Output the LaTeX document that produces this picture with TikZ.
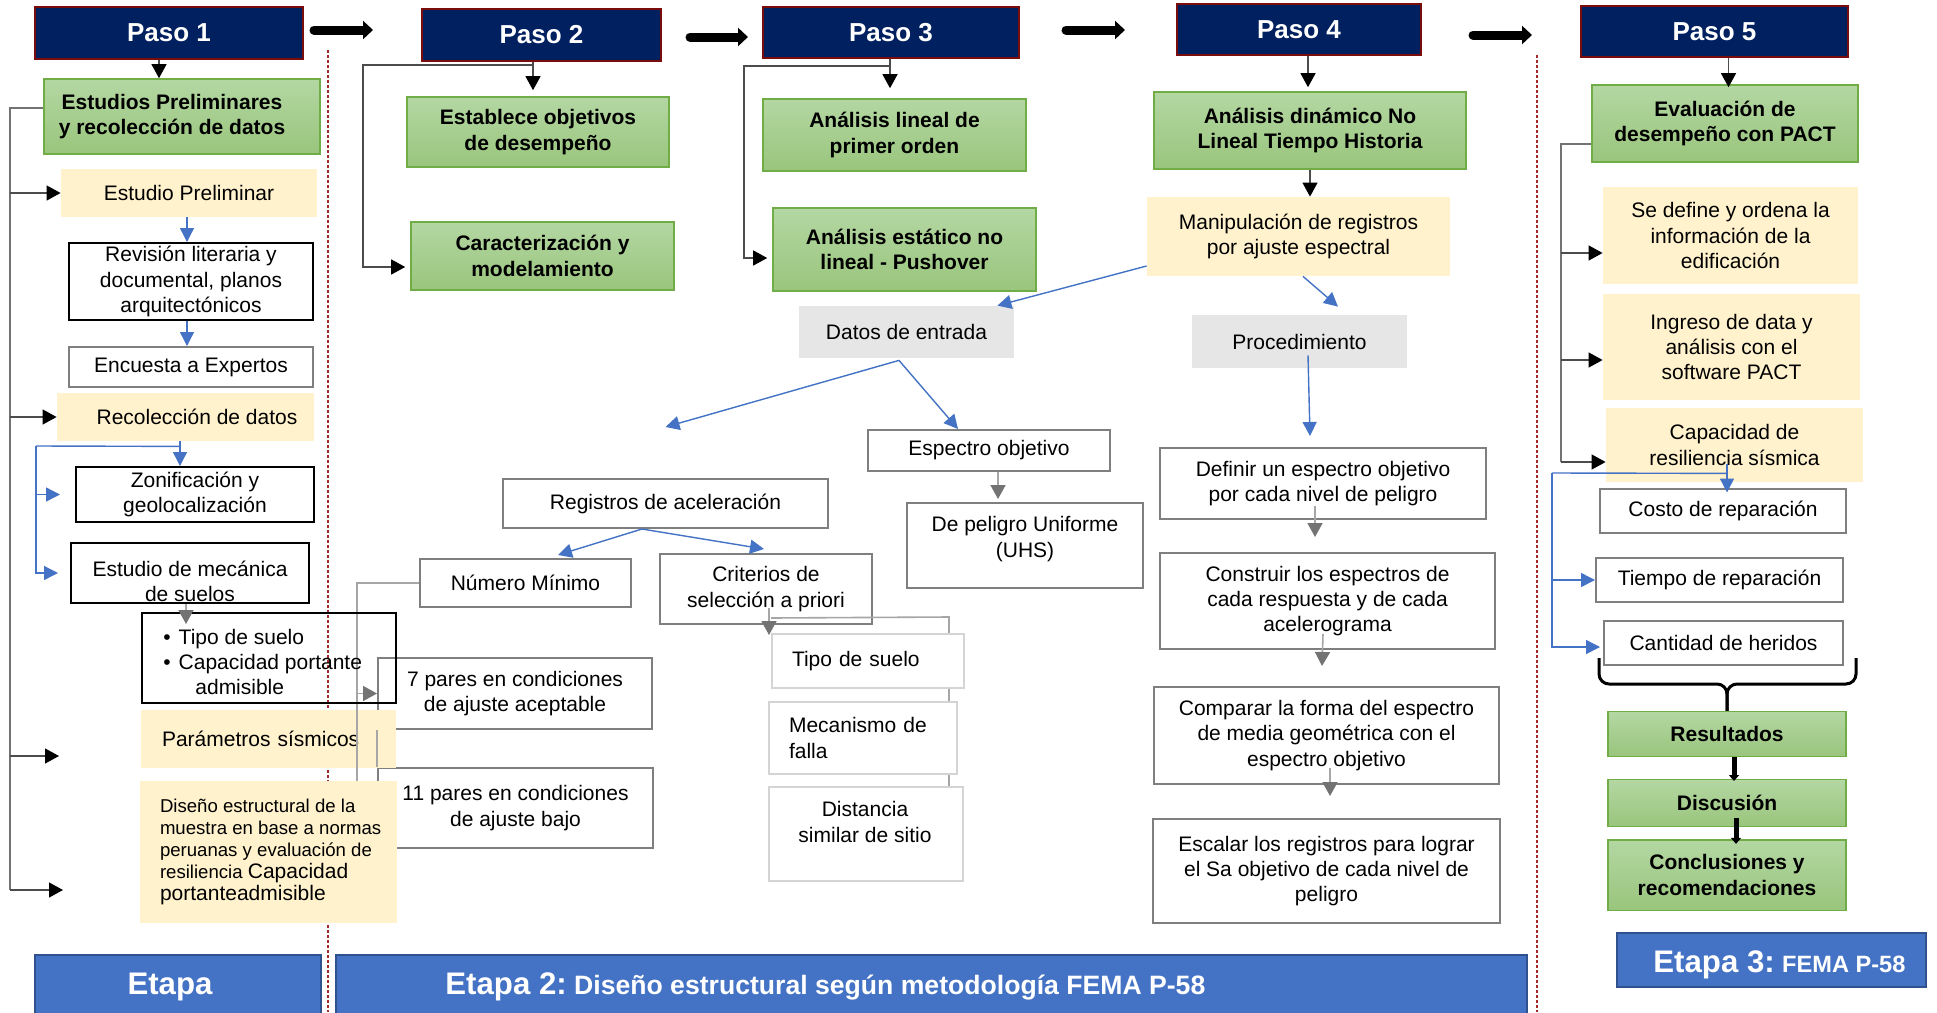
\documentclass[tikz,border=0pt]{standalone}
\usepackage{fontspec}
\setmainfont{Liberation Sans}
\usetikzlibrary{arrows.meta,calc}

\definecolor{navy}{HTML}{002060}
\definecolor{darkred}{HTML}{7B0C0C}
\definecolor{gtop}{HTML}{B4D7A3}
\definecolor{gbot}{HTML}{99C57C}
\definecolor{gedge}{HTML}{70AD47}
\definecolor{cream}{HTML}{FFF2CC}
\definecolor{lgray}{HTML}{E7E6E6}
\definecolor{bblue}{HTML}{4472C4}
\definecolor{bedge}{HTML}{2F528F}
\definecolor{midgray}{HTML}{7F7F7F}
\definecolor{palegray}{HTML}{D4D4D4}
\definecolor{lightline}{HTML}{A6A6A6}
\definecolor{dotred}{HTML}{A52A2A}

\begin{document}
\begin{tikzpicture}[x=0.5pt,y=-0.5pt,
  every node/.style={inner sep=0pt, align=center, font=\fontsize{10.5}{12.7}\selectfont},
  paso/.style={fill=navy, draw=darkred, line width=1pt, text=white, font=\fontsize{13}{15}\selectfont\bfseries},
  grn/.style={top color=gtop, bottom color=gbot, draw=gedge, line width=0.8pt, font=\fontsize{10.5}{12.7}\selectfont\bfseries},
  boldtxt/.style={font=\fontsize{10.5}{12.7}\selectfont\bfseries},
  note/.style={fill=cream},
  gfill/.style={fill=lgray},
  bbox/.style={draw=black, fill=white, line width=1pt},
  gbox/.style={draw=midgray, fill=white, line width=1pt},
  lbox/.style={draw=palegray, fill=white, line width=1pt},
  etapa/.style={fill=bblue, draw=bedge, line width=1pt},
  tline/.style={draw=black!55, line width=0.6pt},
  barr/.style={draw=black!70, line width=0.6pt, -{Triangle[length=7pt,width=7.5pt,color=black,fill=black]}},
  bigarr/.style={draw=black, line width=4.5pt, line cap=round, -{Triangle[length=5pt,width=9pt]}},
  blline/.style={draw=bblue, line width=0.7pt},
  blarr/.style={draw=bblue, line width=0.7pt, -{Triangle[length=7pt,width=7pt]}},
  gline/.style={draw=lightline, line width=0.8pt},
  garr/.style={draw=lightline, line width=0.8pt, -{Triangle[length=7pt,width=7.5pt,color=black!55,fill=black!55]}},
  thickarr/.style={draw=black, line width=2.5pt, -{Triangle[length=3pt,width=5pt]}},
  bracepath/.style={draw=black, line width=1.5pt, rounded corners=5pt},
  redline/.style={draw=dotred, line width=0.6pt, dash pattern=on 1.5pt off 1pt}
]
\useasboundingbox (0,0) rectangle (1937,1012);
\fill[white] (0,0) rectangle (1937,1012);

% stage dividers
\coordinate (d1t) at (328,50);  \coordinate (d1b) at (328,1012);
\coordinate (d2t) at (1537,55); \coordinate (d2b) at (1537,1012);
\draw[redline] (d1t) -- (d1b);
\draw[redline] (d2t) -- (d2b);

% record pairs (partly behind the column of Paso 1)
\node[gbox, minimum width=137pt, minimum height=35.5pt] (p7) at (515,693.5) {7 pares en condiciones\\de ajuste aceptable};
\node[gbox, minimum width=137.5pt, minimum height=40pt] (p11) at (515.5,808) {11 pares en condiciones\\de ajuste bajo};

\node[note, minimum width=127.5pt, minimum height=29pt, text width=106.5pt, inner xsep=10.5pt, align=left] (y3) at (268.5,739) {Parámetros sísmicos};

% step 3 input data cluster
\node[gbox, minimum width=162.5pt, minimum height=24.5pt] (reg) at (665.5,503.5) {Registros de aceleración};
\node[gbox, minimum width=105.5pt, minimum height=24pt] (num) at (525.5,583) {Número Mínimo};
\node[gbox, minimum width=106pt, minimum height=35pt] (cri) at (766,589) {Criterios de\\selección a priori};

% minimum number of records
\coordinate (nt) at (357,583);
\draw[gline] (num.west) -- (nt) -- (nt |- p11.west);
\draw[gline] (p7.south west) -- (p11.north west);
\draw[garr] (nt |- p7.west) -- (p7.west);
\draw[garr] (nt |- p11.west) -- (p11.west);

\node[note, minimum width=128.5pt, minimum height=71pt] (y4) at (268.5,852) {};
\node[anchor=west, align=left, font=\fontsize{9.3}{11}\selectfont] (y4t) at ([xshift=10pt]y4.west) {Diseño estructural de la\\muestra en base a normas\\peruanas y evaluación de\\resiliencia {\fontsize{10.5}{11}\selectfont Capacidad}\\{\fontsize{10.5}{11}\selectfont portanteadmisible}};

% selection criteria
\coordinate (cb) at (949,617);
\coordinate (cbb) at (949,834);
\draw[gline] ([xshift=2.5pt,yshift=3.5pt]cri.south) -- (cb) -- (cbb);
\node[lbox, minimum width=96pt, minimum height=27pt, text width=76pt, inner xsep=10pt, align=left] (tsu) at (868,661) {Tipo de suelo};
\node[lbox, minimum width=94pt, minimum height=36pt, text width=74pt, inner xsep=10pt, align=left] (mfa) at (863,738) {Mecanismo de\\falla};
\node[lbox, minimum width=97pt, minimum height=47pt] (dist) at (866,834) {};
\node (distt) at (865,822) {Distancia\\similar de sitio};
\draw[garr] ([xshift=1.5pt,yshift=8.5pt]cri.south) -- ([xshift=-49.5pt,yshift=-1pt]tsu.north);

% Paso headers
\node[paso, minimum width=134pt, minimum height=26pt] (p1) at (169,33) {Paso 1};
\node[paso, minimum width=119.5pt, minimum height=26pt] (p2) at (541.5,35) {Paso 2};
\node[paso, minimum width=128pt, minimum height=25.5pt] (p3) at (891,32.5) {Paso 3};
\node[paso, minimum width=122pt, minimum height=25.5pt] (p4) at (1299,29.5) {Paso 4};
\node[paso, minimum width=133.5pt, minimum height=25.5pt] (p5) at (1714.5,31.5) {Paso 5};

% column 1
\node[grn, minimum width=138pt, minimum height=37.5pt] (g1) at (182,116.5) {};
\node[boldtxt] (g1t) at (172,116.5) {Estudios Preliminares\\y recolección de datos};
\node[note, minimum width=128pt, minimum height=24pt] (y1) at (189,193) {Estudio Preliminar};
\node[bbox, minimum width=122pt, minimum height=38.5pt] (rev) at (191,281.5) {Revisión literaria y\\documental, planos\\arquitectónicos};
\node[gbox, minimum width=122pt, minimum height=20pt] (enc) at (191,367) {Encuesta a Expertos};
\node[note, minimum width=128.5pt, minimum height=24pt] (y2) at (185.5,417) {};
\node (y2t) at (197,417) {Recolección de datos};
\node[bbox, minimum width=119pt, minimum height=27.5pt] (zon) at (195,494.5) {Zonificación y\\geolocalización};
\node[bbox, minimum width=119pt, minimum height=30pt] (mec) at (190,573) {};
\node (mect) at (190,581.5) {Estudio de mecánica\\de suelos};
\node[draw=black, line width=1pt, minimum width=127pt, minimum height=45pt] (bul) at (269,658) {};
\node[anchor=west, align=left] (bult) at (163,662) {\textbullet\hspace{4pt}Tipo de suelo\\\textbullet\hspace{4pt}Capacidad portante\\\hspace*{16pt}admisible};

% column 2
\node[grn, minimum width=131pt, minimum height=35pt] (g2) at (538,132) {Establece objetivos\\de desempeño};
\node[grn, minimum width=131.5pt, minimum height=34pt] (g3) at (542.5,256) {Caracterización y\\modelamiento};

% column 3
\node[grn, minimum width=131.5pt, minimum height=36pt] (g4) at (894.5,135) {Análisis lineal de\\primer orden};
\node[grn, minimum width=131.5pt, minimum height=41.5pt] (g5) at (904.5,249.5) {Análisis estático no\\lineal - Pushover};
\node[gfill, minimum width=107.5pt, minimum height=26pt] (dat) at (906.5,332) {Datos de entrada};
\node[gbox, minimum width=121pt, minimum height=20.5pt] (esp) at (989,450.5) {Espectro objetivo};
\node[gbox, minimum width=118pt, minimum height=42.5pt] (pel) at (1025,545.5) {};
\node (pelt) at (1025,539) {De peligro Uniforme\\(UHS)};

% column 4
\node[grn, minimum width=156pt, minimum height=38.5pt] (g6) at (1310,130.5) {Análisis dinámico No\\Lineal Tiempo Historia};
\node[note, minimum width=151.5pt, minimum height=39.5pt] (y5) at (1298.5,236.5) {Manipulación de registros\\por ajuste espectral};
\node[gfill, minimum width=107.5pt, minimum height=26.5pt] (proc) at (1299.5,341.5) {Procedimiento};
\node[gbox, minimum width=163pt, minimum height=35.5pt] (def) at (1323,483.5) {Definir un espectro objetivo\\por cada nivel de peligro};
\node[gbox, minimum width=167.5pt, minimum height=48pt] (con) at (1327.5,601) {Construir los espectros de\\cada respuesta y de cada\\acelerograma};
\node[gbox, minimum width=172.5pt, minimum height=48.5pt] (com) at (1326.5,735.5) {Comparar la forma del espectro\\de media geométrica con el\\espectro objetivo};
\node[gbox, minimum width=173.5pt, minimum height=52pt] (esc) at (1326.5,871) {Escalar los registros para lograr\\el Sa objetivo de cada nivel de\\peligro};

% column 5
\node[grn, minimum width=133pt, minimum height=38.5pt] (g7) at (1725,123.5) {Evaluación de\\desempeño con PACT};
\node[note, minimum width=127.5pt, minimum height=48.5pt] (y6) at (1730.5,235.5) {Se define y ordena la\\información de la\\edificación};
\node[note, minimum width=128.5pt, minimum height=53pt] (y7) at (1731.5,347) {Ingreso de data y\\análisis con el\\software PACT};
\node[note, minimum width=128.5pt, minimum height=37pt] (y8) at (1734.5,445) {Capacidad de\\resiliencia sísmica};
\node[gbox, minimum width=123pt, minimum height=22pt] (cos) at (1723,510.5) {Costo de reparación};
\node[gbox, minimum width=123.5pt, minimum height=21.75pt] (tie) at (1719.5,580) {Tiempo de reparación};
\node[gbox, minimum width=119.5pt, minimum height=21.75pt] (can) at (1723.5,643) {Cantidad de heridos};
\node[grn, minimum width=119pt, minimum height=22.35pt] (g8) at (1727,734) {Resultados};
\node[grn, minimum width=119pt, minimum height=23.6pt] (g9) at (1727,803) {Discusión};
\node[grn, minimum width=119pt, minimum height=35.3pt] (g10) at (1727,875) {Conclusiones y\\recomendaciones};

% stage banners
\node[etapa, minimum width=143pt, minimum height=32pt] (e1) at (178,987) {};
\node[text=white, font=\fontsize{15.6}{18}\selectfont\bfseries] (e1t) at (170,987) {Etapa};
\node[etapa, minimum width=595.5pt, minimum height=32pt] (e2) at (931.5,987) {};
\node[anchor=west, text=white, font=\bfseries] (e2t) at (445,987) {{\fontsize{15.6}{18}\selectfont Etapa 2:} {\fontsize{13.3}{16}\selectfont Diseño estructural según metodología FEMA P-58}};
\node[etapa, minimum width=154.5pt, minimum height=26.8pt] (e3) at (1771.5,960) {};
\node[anchor=west, text=white, font=\bfseries] (e3t) at (1653,965) {{\fontsize{15.6}{18}\selectfont Etapa 3:} {\fontsize{11.8}{14}\selectfont FEMA P-58}};

% arrows between steps
\draw[bigarr] ([xshift=5pt,yshift=1.5pt]p1.east) -- ([xshift=-24pt,yshift=1.5pt]p1.east -| p2.west);
\draw[bigarr] ([xshift=14pt,yshift=-1pt]p2.east) -- ([xshift=-7pt,yshift=-1pt]p2.east -| p3.west);
\draw[bigarr] ([xshift=23pt,yshift=1.25pt]p3.east) -- ([xshift=-25.5pt,yshift=1.25pt]p3.east -| p4.west);
\draw[bigarr] ([xshift=25.5pt,yshift=-2.75pt]p4.east) -- ([xshift=-24pt,yshift=-2.75pt]p4.east -| p5.west);

% step 1 connectors
\draw[barr] ([xshift=-5pt]p1.south) -- ([xshift=-5pt]p1.south |- g1.north);
\coordinate (tt) at (10,108);
\coordinate (tb) at (10,890);
\coordinate (eP) at (59,756);
\coordinate (eD) at (63,890);
\draw[tline] ([yshift=4.25pt]g1.west) -- (tt) -- (tb);
\draw[barr] (tt |- y1.west) -- (y1.west);
\draw[barr] (tt |- y2.west) -- (y2.west);
\draw[barr] (tt |- eP) -- (eP);
\draw[barr] (tb) -- (eD);
\draw[blarr] ([xshift=-1pt]y1.south) -- ([xshift=-1pt]y1.south |- rev.north);
\draw[blarr] ([xshift=-2pt]rev.south) -- ([xshift=-2pt]rev.south |- enc.north);
\draw[blarr] ([xshift=-2.75pt]y2.south) -- ([xshift=-2.75pt]y2.south |- zon.north);
\coordinate (bk) at (36,446);
\draw[blline] ([xshift=-2.75pt,yshift=-2.5pt]y2.south) -- (bk);
\draw[blarr, shorten >=7.5pt] (bk |- zon.west) -- (zon.west);
\draw[blarr, shorten >=6pt] (bk) |- (mec.west);
\draw[garr] ([xshift=-2pt]mec.south) -- ([xshift=-2pt,yshift=-6pt]mec.south |- bul.north);

% step 2 connectors
\coordinate (j2) at (533,65);
\coordinate (c2) at (363,267);
\draw[barr, shorten >=3pt] (j2 |- p2.south) -- (j2 |- g2.north);
\draw[barr, shorten >=2.5pt] (j2) -| (c2) -- (c2 -| g3.west);

% step 3 connectors
\coordinate (j3) at (890,66);
\coordinate (c3) at (744,258);
\draw[barr, shorten >=5pt] (j3 |- p3.south) -- (j3 |- g4.north);
\draw[barr, shorten >=2.5pt] (j3) -| (c3) -- (c3 -| g5.west);
\draw[blarr] ([yshift=-14.75pt]y5.west) -- ([xshift=-8.5pt]dat.north east);
\draw[blarr] ([xshift=-3.75pt,yshift=-1pt]dat.south) -- ([yshift=25.5pt]reg.north);
\draw[blarr] ([xshift=-3.75pt,yshift=-1pt]dat.south) -- ([xshift=-15.5pt]esp.north);
\draw[blarr] ([xshift=-11.75pt]reg.south) -- ([xshift=16.25pt,yshift=1.5pt]num.north);
\draw[blarr] ([xshift=-11.75pt]reg.south) -- ([xshift=-1pt,yshift=2pt]cri.north);
\draw[garr] ([xshift=4.5pt]esp.south) -- ([xshift=-13.5pt,yshift=1.5pt]pel.north);

% step 4 connectors
\draw[barr, shorten >=2pt] ([xshift=4.5pt]p4.south) -- ([xshift=4.5pt]p4.south |- g6.north);
\draw[barr] (g6.south) -- (g6.south |- y5.north);
\draw[blarr] ([xshift=2.25pt]y5.south) -- ([xshift=19.25pt,yshift=4pt]proc.north);
\draw[blarr] ([xshift=4.25pt,yshift=6.5pt]proc.south) -- ([xshift=-6.5pt,yshift=5.5pt]def.north);
\draw[garr] ([xshift=-4pt,yshift=7pt]def.south) -- ([xshift=-6.25pt,yshift=7.5pt]con.north);
\draw[garr] ([xshift=-2.25pt,yshift=8pt]con.south) -- ([xshift=-2.25pt,yshift=10pt]com.north);
\draw[garr] ([xshift=1.75pt,yshift=8.5pt]com.south) -- ([xshift=1.75pt,yshift=11pt]esc.north);

% step 5 connectors
\draw[barr, shorten >=-1.5pt] ([xshift=7pt]p5.south) -- ([xshift=7pt]p5.south |- g7.north);
\coordinate (t5) at (1561,144);
\coordinate (t5b) at (1561,462);
\draw[tline] ([yshift=-10.25pt]g7.west) -- (t5) -- (t5b);
\draw[barr] ([yshift=-8.75pt]y6.west -| t5) -- ([yshift=-8.75pt]y6.west);
\draw[barr] ([yshift=-6.5pt]y7.west -| t5) -- ([yshift=-6.5pt]y7.west);
\draw[barr] (t5b) -- (t5b -| y8.west);
\draw[blarr, shorten >=-2.5pt] ([xshift=-3.75pt,yshift=9pt]y8.south) -- ([xshift=-3.75pt]y8.south |- cos.north);
\coordinate (b5) at (1552,473);
\draw[blline] ([xshift=-3.75pt,yshift=4.5pt]y8.south) -- (b5);
\draw[blarr] (b5 |- tie.west) -- (tie.west);
\draw[blarr, shorten >=1.5pt] (b5) |- ([yshift=-2pt]can.west);

% results brace and closing chain
\coordinate (brl) at (1599,658);
\coordinate (brr) at (1856,658);
\coordinate (brm) at (1727,684);
\draw[bracepath] (brl) |- (brm) -- (g8.north);
\draw[bracepath] (brr) |- (brm) -- (g8.north);
\draw[thickarr] ([xshift=3.5pt]g8.south) -- ([xshift=3.5pt,yshift=-1.2pt]g8.south |- g9.north);
\draw[thickarr] ([xshift=4.5pt,yshift=4.6pt]g9.south) -- ([xshift=4.5pt,yshift=-2.5pt]g9.south |- g10.north);
\end{tikzpicture}
\end{document}
